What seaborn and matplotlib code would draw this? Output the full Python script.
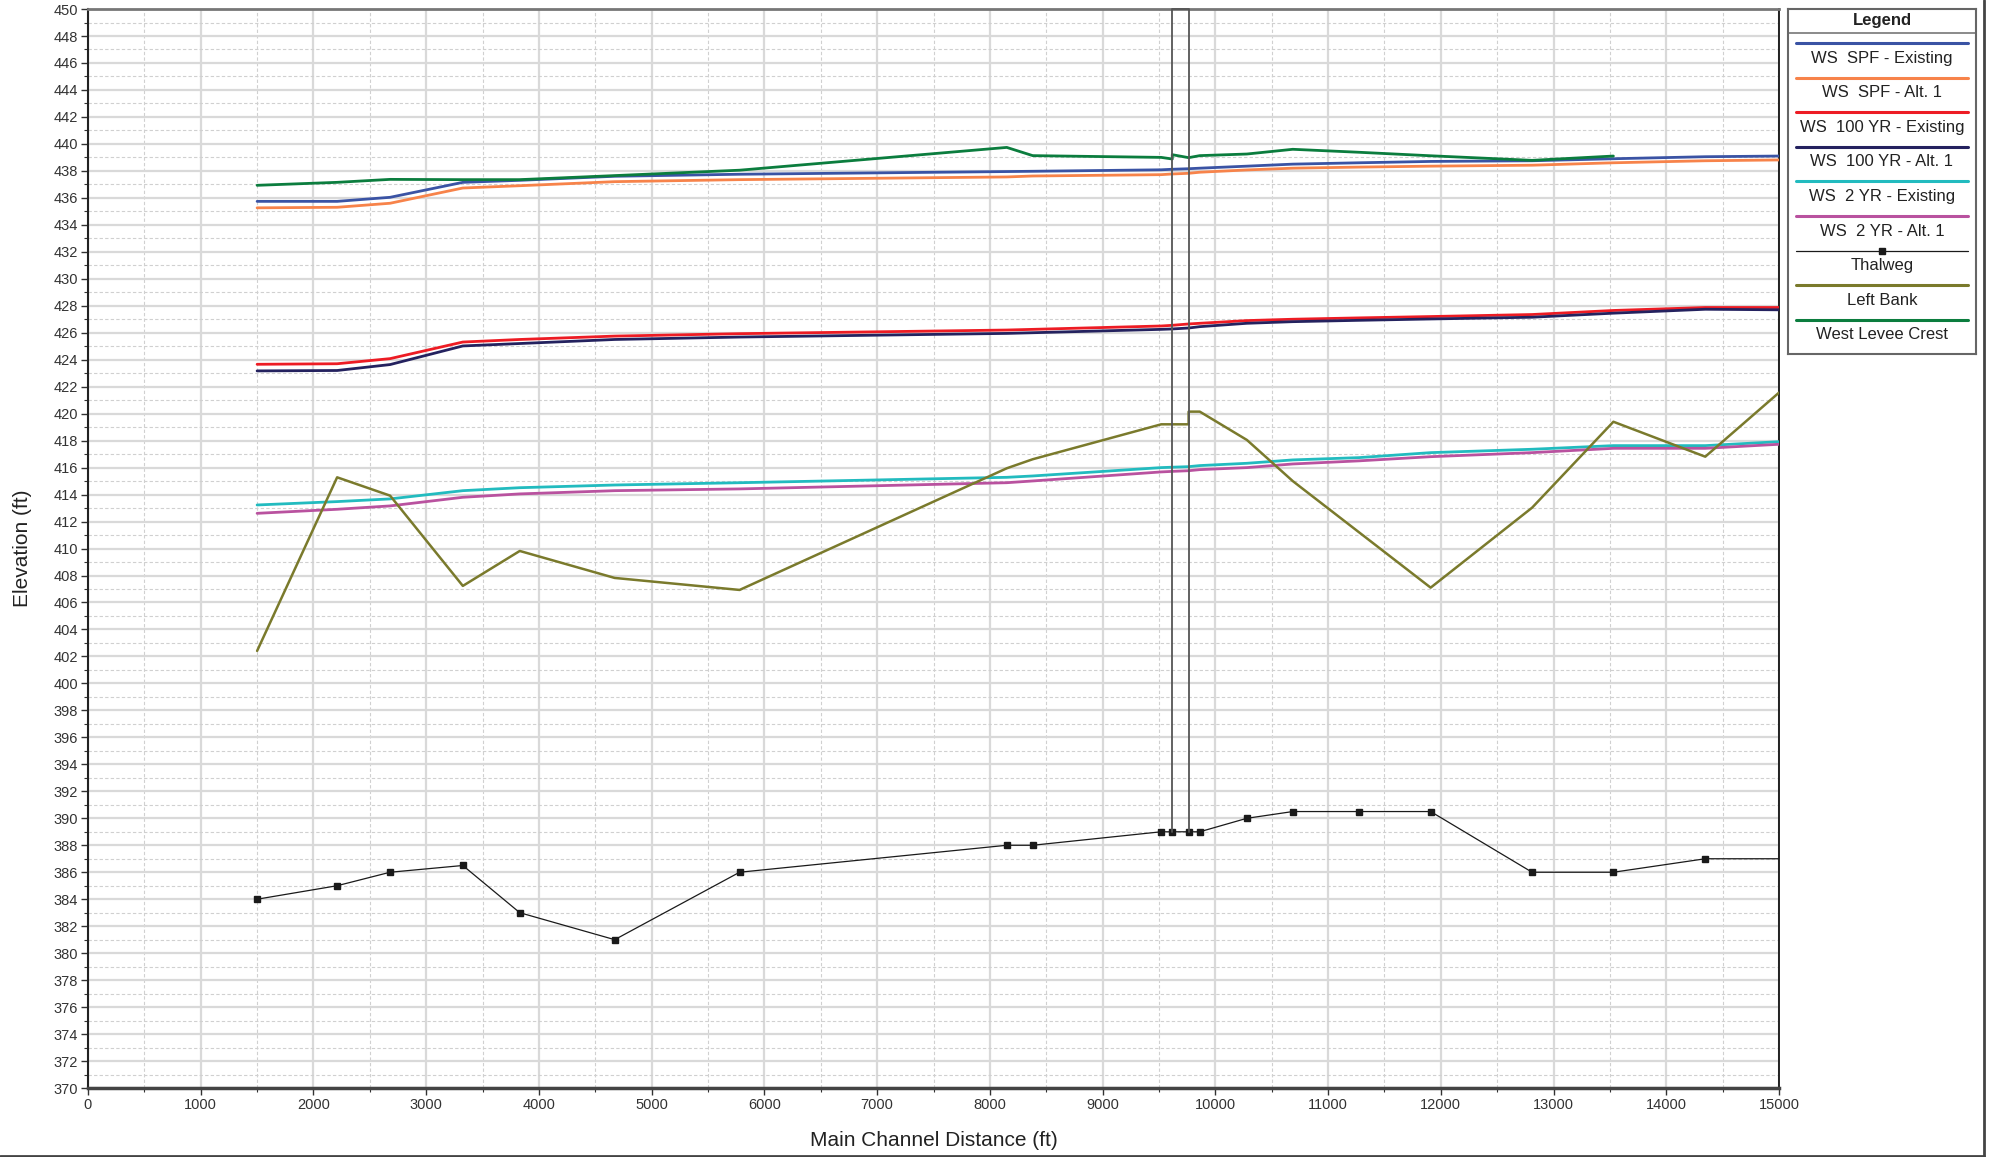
import pandas as pd
import matplotlib.pyplot as plt
import seaborn as sns
from matplotlib.lines import Line2D
from matplotlib.ticker import MultipleLocator

# river stations shared by the water surface profiles and the thalweg
sta = [1500, 2210, 2680, 3325, 3830, 4672, 5780, 8150, 8380, 9520, 9618, 9763, 9862,
       10280, 10687, 11273, 11910, 12810, 13531, 14346, 15000]

ws_spf_exist = [435.74, 435.74, 436.04, 437.15, 437.3, 437.6, 437.75, 437.95, 437.97, 438.08, 438.12,
                438.16, 438.2, 438.35, 438.5, 438.6, 438.7, 438.75, 438.9, 439.05, 439.1]
ws_spf_alt1 = [435.26, 435.3, 435.6, 436.73, 436.9, 437.2, 437.35, 437.55, 437.62, 437.72, 437.77,
               437.82, 437.9, 438.07, 438.2, 438.28, 438.35, 438.42, 438.6, 438.75, 438.81]
ws_100_exist = [423.66, 423.7, 424.08, 425.31, 425.5, 425.75, 425.93, 426.2, 426.25, 426.5, 426.55,
                426.65, 426.7, 426.9, 427.0, 427.1, 427.2, 427.35, 427.65, 427.87, 427.87]
ws_100_alt1 = [423.17, 423.2, 423.64, 425.02, 425.2, 425.5, 425.68, 425.95, 426.0, 426.25, 426.28,
               426.35, 426.45, 426.7, 426.82, 426.92, 427.02, 427.15, 427.45, 427.74, 427.7]
ws_2_exist = [413.23, 413.48, 413.68, 414.29, 414.51, 414.71, 414.88, 415.28, 415.38, 416.0, 416.03,
              416.07, 416.15, 416.32, 416.57, 416.74, 417.11, 417.36, 417.63, 417.63, 417.92]
ws_2_alt1 = [412.61, 412.91, 413.16, 413.8, 414.05, 414.29, 414.42, 414.88, 415.01, 415.68, 415.72,
             415.77, 415.85, 416.0, 416.27, 416.5, 416.81, 417.11, 417.43, 417.43, 417.73]
thalweg = [384.0, 385.0, 386.0, 386.5, 383.0, 381.0, 386.0, 388.0, 388.0, 389.0, 389.0, 389.0, 389.0,
           390.0, 390.5, 390.5, 390.5, 386.0, 386.0, 387.0, 387.0]

bank_sta = [1500, 2210, 2680, 3325, 3830, 4672, 5780, 8150, 8380, 9520, 9763, 9763, 9862,
            10280, 10687, 11910, 12810, 13531, 14346, 15000]
left_bank = [402.41, 415.28, 413.92, 407.23, 409.82, 407.82, 406.93, 415.95, 416.62, 419.21, 419.21,
             420.15, 420.15, 418.05, 415.0, 407.1, 413.03, 419.4, 416.81, 421.56]

levee_sta = [1500, 2210, 2680, 3325, 3830, 4672, 5780, 8150, 8380, 9520, 9618, 9618, 9763, 9862,
             10280, 10687, 11273, 11910, 12810, 13531]
levee_crest = [436.93, 437.15, 437.37, 437.35, 437.35, 437.65, 438.05, 439.74, 439.13, 439.0, 438.88,
               439.2, 438.98, 439.13, 439.25, 439.6, 439.38, 439.12, 438.78, 439.1]

# bridge opening outline
bridge_sta = [9618, 9618, 9763, 9763]
bridge_elev = [389.0, 450.0, 450.0, 389.0]

labels = ["WS  SPF - Existing", "WS  SPF - Alt. 1", "WS  100 YR - Existing", "WS  100 YR - Alt. 1",
          "WS  2 YR - Existing", "WS  2 YR - Alt. 1", "Thalweg", "Left Bank", "West Levee Crest"]
colors = ["#3A53A4", "#F7834A", "#ED1C24", "#24225F", "#22BBBF", "#B9529F", "#1a1a1a", "#7A7A2C", "#0B7D3E"]
widths = [2.0, 2.0, 2.0, 2.0, 2.0, 2.0, 0.9, 1.8, 2.0]

sns.set_style("white")
plt.rcParams['font.family'] = ['Liberation Sans', 'DejaVu Sans']

fig = plt.figure(figsize=(20, 11.57), dpi=100)
ax = fig.add_axes([0.044, 0.0596, 0.8455, 0.9326])

ws_series = [ws_spf_exist, ws_spf_alt1, ws_100_exist, ws_100_alt1, ws_2_exist, ws_2_alt1]
for vals, lab, col, lw in zip(ws_series, labels[:6], colors[:6], widths[:6]):
    df = pd.DataFrame({"Station": sta, "Elevation": vals})
    sns.lineplot(data=df, x="Station", y="Elevation", ax=ax, color=col, linewidth=lw,
                 sort=False, estimator=None, zorder=3)

df_bank = pd.DataFrame({"Station": bank_sta, "Elevation": left_bank})
sns.lineplot(data=df_bank, x="Station", y="Elevation", ax=ax, color=colors[7], linewidth=widths[7],
             sort=False, estimator=None, zorder=3)

df_levee = pd.DataFrame({"Station": levee_sta, "Elevation": levee_crest})
sns.lineplot(data=df_levee, x="Station", y="Elevation", ax=ax, color=colors[8], linewidth=widths[8],
             sort=False, estimator=None, zorder=3)

df_thal = pd.DataFrame({"Station": sta, "Elevation": thalweg})
ax.plot(df_thal["Station"], df_thal["Elevation"], color=colors[6], linewidth=widths[6],
        marker="s", markersize=4.5, markevery=list(range(len(sta) - 1)), zorder=4)

ax.plot(bridge_sta, bridge_elev, color="#555555", linewidth=1.3, zorder=4, clip_on=False)

ax.set_xlim(0, 15000)
ax.set_ylim(370, 450)
ax.xaxis.set_major_locator(MultipleLocator(1000))
ax.xaxis.set_minor_locator(MultipleLocator(500))
ax.yaxis.set_major_locator(MultipleLocator(2))
ax.yaxis.set_minor_locator(MultipleLocator(1))
ax.grid(which="major", color="#d9d9d9", linewidth=1.6, linestyle="-", zorder=0)
ax.grid(which="minor", color="#d0d0d0", linewidth=0.8, linestyle=(0, (3, 2)), zorder=0)
ax.set_axisbelow(True)

ax.tick_params(which="major", direction="out", length=5, width=1.0, color="#333333",
               labelsize=10.5, labelcolor="#333333", pad=2, left=True, bottom=True)
ax.tick_params(which="minor", direction="out", length=3, width=0.8, color="#333333", left=True, bottom=True)

ax.spines["left"].set_color("#222222")
ax.spines["left"].set_linewidth(1.5)
ax.spines["bottom"].set_color("#444444")
ax.spines["bottom"].set_linewidth(2.5)
ax.spines["top"].set_color("#777777")
ax.spines["top"].set_linewidth(2.0)
ax.spines["right"].set_color("#111111")
ax.spines["right"].set_linewidth(1.3)

ax.set_xlabel("Main Channel Distance (ft)", fontsize=15, color="#222222")
ax.set_ylabel("Elevation (ft)", fontsize=15, color="#222222")
ax.xaxis.set_label_coords(0.5, -0.040)
ax.yaxis.set_label_coords(-0.033, 0.5)

# legend drawn as its own panel: sample line above each label
lax = fig.add_axes([0.894, 0.694, 0.094, 0.2982])
lax.set_xlim(0, 188)
lax.set_ylim(345, 0)
lax.set_xticks([])
lax.set_yticks([])
for sp in lax.spines.values():
    sp.set_color("#666666")
    sp.set_linewidth(1.5)
lax.text(94, 11, "Legend", ha="center", va="center", fontsize=12, fontweight="bold", color="#222222")
lax.plot([0, 188], [24, 24], color="#777777", linewidth=1.2)
for i, (lab, col) in enumerate(zip(labels, colors)):
    y_line = 34 + 34.6 * i
    lw = 2.2 if i != 6 else 0.9
    lax.plot([8, 180], [y_line, y_line], color=col, linewidth=lw)
    if i == 6:
        lax.plot([94], [y_line], color=col, marker="s", markersize=4.5)
    lax.text(94, y_line + 15, lab, ha="center", va="center", fontsize=12, color="#222222")

# outer frame on the right and bottom edges
fig.add_artist(Line2D([0.992, 0.992], [0.0005, 1.0], color="#444444", linewidth=2))
fig.add_artist(Line2D([0.0, 0.992], [0.0009, 0.0009], color="#444444", linewidth=2))

fig.savefig("out.png", dpi=100)
